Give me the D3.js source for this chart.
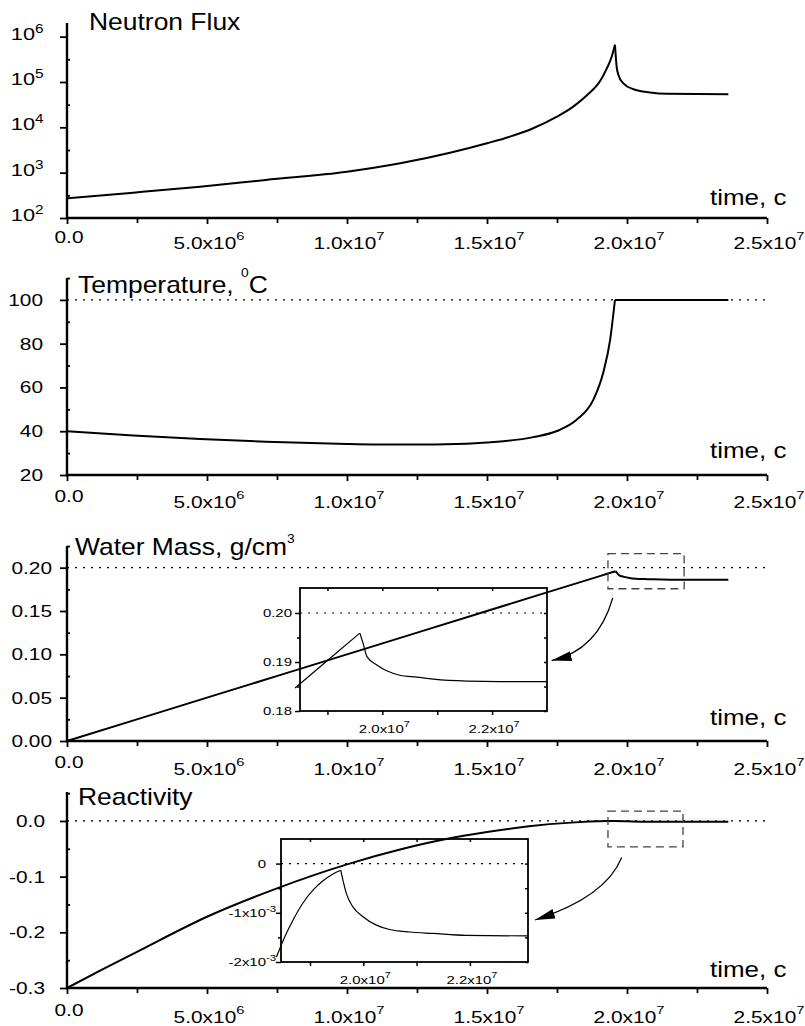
<!DOCTYPE html>
<html>
<head>
<meta charset="utf-8">
<script src="https://cdn.jsdelivr.net/npm/d3@7"></script>
<style>
  body { margin: 0; background: #fff; }
  text { font-family: "Liberation Sans", Arial, sans-serif; fill: #000; }
</style>
</head>
<body>
<script>
const width = 805;
const height = 1026;

// time axis shared by all four panels
const timeTicks = [0, 5e6, 1e7, 1.5e7, 2e7, 2.5e7];
const timeTickLabels = ['0.0', '5.0x10^{6}', '1.0x10^{7}', '1.5x10^{7}', '2.0x10^{7}', '2.5x10^{7}'];

// neutron flux (log)
const fluxTime = [0, 2.37e6, 4.75e6, 7.1e6, 1e7, 1.19e7, 1.368e7, 1.5e7, 1.582e7, 1.665e7, 1.75e7, 1.808e7,
  1.856e7, 1.904e7, 1.928e7, 1.945e7, 1.957e7, 1.963e7, 1.969e7, 1.987e7, 2.023e7, 2.082e7, 2.142e7, 2.362e7];
const fluxValue = [272, 362, 490, 692, 1050, 1610, 2750, 4460, 6240, 9550, 17200, 28600,
  50100, 105000, 200000, 355000, 661000, 219000, 145000, 93300, 69200, 58900, 55000, 53700];
const fluxTicks = [1e2, 1e3, 1e4, 1e5, 1e6];
const fluxTickLabels = ['10^{2}', '10^{3}', '10^{4}', '10^{5}', '10^{6}'];

// temperature
const tempTime = [0, 2.37e6, 4.75e6, 7.1e6, 1e7, 1.19e7, 1.35e7, 1.5e7, 1.665e7, 1.75e7, 1.82e7, 1.88e7,
  1.915e7, 1.94e7, 1.957e7, 2.362e7];
const tempValue = [40, 38, 36.4, 35.2, 34.2, 33.9, 34, 34.8, 37.3, 40.1, 45.2, 54.4,
  66.7, 82, 100, 100];
const tempTicks = [20, 40, 60, 80, 100];
const tempTickLabels = ['20', '40', '60', '80', '100'];

// water mass
const massTime = [0, 5e6, 1e7, 1.5e7, 1.9e7, 1.959e7, 1.965e7, 1.972e7, 1.99e7, 2.008e7, 2.032e7, 2.063e7, 2.093e7, 2.154e7, 2.362e7];
const massValue = [0, 0.05, 0.1, 0.15, 0.19, 0.1959, 0.1938, 0.1911, 0.1894, 0.1882, 0.1873, 0.1869, 0.1865, 0.1861, 0.186];
const massTicks = [0, 0.05, 0.1, 0.15, 0.2];
const massTickLabels = ['0.00', '0.05', '0.10', '0.15', '0.20'];

// water mass, zoomed inset
const massInsetTime = [1.841e7, 1.9e7, 1.959e7, 1.965e7, 1.972e7, 1.99e7, 2.008e7, 2.032e7, 2.063e7, 2.093e7, 2.154e7, 2.214e7, 2.3e7];
const massInsetValue = [0.1847, 0.1903, 0.1959, 0.1938, 0.1911, 0.1894, 0.1882, 0.1873, 0.1869, 0.1865, 0.1861, 0.186, 0.186];
const massInsetTicks = [0.18, 0.19, 0.2];
const massInsetTickLabels = ['0.18', '0.19', '0.20'];

// reactivity
const reactTime = [0, 1.25e6, 2.5e6, 5e6, 7.5e6, 1e7, 1.2e7, 1.35e7, 1.5e7, 1.65e7, 1.8e7, 1.93e7, 1.957e7, 2.05e7, 2.362e7];
const reactValue = [-0.3, -0.267, -0.235, -0.172, -0.121, -0.078, -0.05, -0.033, -0.02, -0.0095, -0.003, -0.0003, -0.0001, -0.0013, -0.0015];
const reactTicks = [-0.3, -0.2, -0.1, 0];
const reactTickLabels = ['-0.3', '-0.2', '-0.1', '0.0'];

// reactivity, zoomed inset
const reactInsetTime = [1.837e7, 1.8525e7, 1.868e7, 1.8868e7, 1.9056e7, 1.9244e7, 1.9431e7, 1.9576e7, 1.9619e7,
  1.9683e7, 1.9806e7, 1.9994e7, 2.0246e7, 2.0495e7, 2.087e7, 2.1307e7, 2.1934e7, 2.308e7];
const reactInsetValue = [-1.9e-3, -1.49e-3, -1.15e-3, -0.8e-3, -0.54e-3, -0.35e-3, -0.21e-3, -0.135e-3, -0.34e-3,
  -0.61e-3, -0.88e-3, -1.08e-3, -1.25e-3, -1.34e-3, -1.39e-3, -1.42e-3, -1.46e-3, -1.47e-3];
const reactInsetTicks = [-2e-3, -1e-3, 0];
const reactInsetTickLabels = ['-2x10^{-3}', '-1x10^{-3}', '0'];

const insetTimeTicks = [1.9e7, 2e7, 2.1e7, 2.2e7];
const insetTimeLabels = ['', '2.0x10^{7}', '', '2.2x10^{7}'];

const svg = d3.select('body').append('svg')
  .attr('width', width)
  .attr('height', height);

const x = d3.scaleLinear().domain([0, 2.5e7]).range([67, 767]);

// text with ^{..} superscripts, stretched horizontally like the original
function richText(g, px, py, str, o) {
  const t = g.append('text')
    .attr('transform', `translate(${px},${py}) scale(${o.sx || 1.28},1)`)
    .attr('text-anchor', o.anchor || 'start')
    .style('font-size', o.size + 'px');
  const parts = str.split(/(\^\{[^}]*\})/).filter(s => s);
  let raised = false;
  parts.forEach(p => {
    if (p.startsWith('^{')) {
      t.append('tspan').attr('dy', -o.rise).style('font-size', o.sup + 'px').text(p.slice(2, -1));
      raised = true;
    } else {
      const ts = t.append('tspan').text(p);
      if (raised) { ts.attr('dy', o.rise); raised = false; }
    }
  });
  return t;
}

// y label whose base part is right-aligned and superscript hangs after it
function yLabel(g, px, py, str, o) {
  const m = str.match(/^(.*?)\^\{([^}]*)\}$/);
  if (!m) return richText(g, px, py, str, Object.assign({}, o, { anchor: 'end' }));
  richText(g, px, py, m[1], Object.assign({}, o, { anchor: 'end' }));
  richText(g, px, py - o.rise, m[2], Object.assign({}, o, { anchor: 'start', size: o.sup }));
}

function styleAxis(g, w) {
  g.select('.domain').remove();
  g.selectAll('.tick line').attr('stroke', '#000').attr('stroke-width', w);
}

// draw a series as two monotone pieces meeting at a sharp corner
function drawSeries(g, xs, ys, times, values, split, w) {
  const line = d3.line()
    .x(i => xs(times[i]))
    .y(i => ys(values[i]))
    .curve(d3.curveMonotoneX);
  const idx = d3.range(times.length);
  const k = split === undefined ? -1 : times.indexOf(split);
  const pieces = k < 0 ? [idx] : [idx.slice(0, k + 1), idx.slice(k)];
  pieces.forEach(piece => {
    g.append('path')
      .attr('d', line(piece))
      .attr('fill', 'none').attr('stroke', '#000').attr('stroke-width', w)
      .attr('stroke-linejoin', 'miter');
  });
}

const panels = [
  { top: 23, bottom: 218, log: true, domain: [1e2, 2e6], ticks: fluxTicks, labels: fluxTickLabels,
    t: fluxTime, v: fluxValue, split: 1.957e7, title: 'Neutron Flux', titleX: 89, titleY: 30, timeY: 205,
    labelX: 35, labelDy: 3, labelSize: 17, xLabDy: [25, 31] },
  { top: 278, bottom: 475, domain: [20, 110], ticks: tempTicks, labels: tempTickLabels, refLine: 100,
    t: tempTime, v: tempValue, split: 1.957e7, title: 'Temperature, ^{0}C', titleX: 78, titleY: 293, timeY: 458,
    labelX: 43, labelDy: 6, labelSize: 16.3, xLabDy: [27, 33] },
  { top: 546, bottom: 741, domain: [0, 0.225], ticks: massTicks, labels: massTickLabels, refLine: 0.2,
    t: massTime, v: massValue, split: 1.959e7, title: 'Water Mass, g/cm^{3}', titleX: 75, titleY: 555, timeY: 725,
    labelX: 52, labelDy: 6, labelSize: 16.3, xLabDy: [27, 34],
    box: [1.932e7, 2.204e7, 0.1757, 0.2162],
    arrow: [[1.949e7, 0.165], [1.8957e7, 0.1046], [1.731e7, 0.0928]],
    inset: { x0: 300, x1: 547, y0: 588, y1: 711, xd: [1.85e7, 2.30e7], yd: [0.18, 0.2051],
      ticks: massInsetTicks, labels: massInsetTickLabels, minor: [0.185, 0.195], ref: 0.2,
      t: massInsetTime, v: massInsetValue, split: 1.959e7, labelX: 292 } },
  { top: 792, bottom: 988, domain: [-0.3, 0.052], ticks: reactTicks, labels: reactTickLabels, refLine: 0,
    t: reactTime, v: reactValue, title: 'Reactivity', titleX: 78, titleY: 805, timeY: 977,
    labelX: 45, labelDy: 6, labelSize: 16.3, xLabDy: [28, 35],
    box: [1.932e7, 2.2e7, -0.0467, 0.0177],
    arrow: [[1.9811e7, -0.0657], [1.9236e7, -0.1372], [1.6714e7, -0.1778]],
    inset: { x0: 281, x1: 528, y0: 839, y1: 962, xd: [1.8456e7, 2.309e7], yd: [-2e-3, 0.5e-3],
      ticks: reactInsetTicks, labels: reactInsetTickLabels, minor: [-1.5e-3, -0.5e-3], ref: 0,
      t: reactInsetTime, v: reactInsetValue, split: 1.9576e7, labelX: 266 } }
];

const defs = svg.append('defs');
defs.append('marker')
  .attr('id', 'head')
  .attr('markerUnits', 'userSpaceOnUse')
  .attr('viewBox', '0 0 20 10')
  .attr('refX', 20).attr('refY', 5)
  .attr('markerWidth', 20).attr('markerHeight', 10)
  .attr('orient', 'auto')
  .append('path')
  .attr('d', 'M0,0 L20,5 L0,10 Z')
  .attr('fill', '#000');

panels.forEach(p => {
  const g = svg.append('g');
  const y = (p.log ? d3.scaleLog() : d3.scaleLinear()).domain(p.domain).range([p.bottom, p.top]);

  // dotted reference line
  if (p.refLine !== undefined) {
    g.append('line')
      .attr('x1', x(0)).attr('x2', x(2.5e7))
      .attr('y1', y(p.refLine)).attr('y2', y(p.refLine))
      .attr('stroke', '#000').attr('stroke-width', 1.2)
      .attr('stroke-dasharray', '2,6');
  }

  // x ticks
  const xMinor = d3.range(2.5e6, 2.5e7, 5e6);
  g.append('g').attr('transform', `translate(0,${p.bottom})`)
    .call(d3.axisBottom(x).tickValues(timeTicks).tickSize(6).tickFormat(''))
    .call(a => styleAxis(a, 1.8));
  g.append('g').attr('transform', `translate(0,${p.bottom})`)
    .call(d3.axisBottom(x).tickValues(xMinor).tickSize(5).tickFormat(''))
    .call(a => styleAxis(a, 1.8));

  // y ticks
  let yMinor;
  if (p.log) yMinor = p.ticks.map(v => v * Math.sqrt(10)).filter(v => v < p.domain[1]);
  else {
    const step = p.ticks[1] - p.ticks[0];
    yMinor = d3.range(p.domain[0] + step / 2, p.domain[1] + 1e-9, step);
  }
  g.append('g').attr('transform', `translate(${x(0)},0)`)
    .call(d3.axisLeft(y).tickValues(p.ticks).tickSize(7).tickFormat(''))
    .call(a => styleAxis(a, 1.8));
  g.append('g').attr('transform', `translate(${x(0)},0)`)
    .call(d3.axisRight(y).tickValues(yMinor).tickSize(3).tickFormat(''))
    .call(a => styleAxis(a, 1.8));

  // axis lines
  g.append('path')
    .attr('d', `M${x(0)},${p.top}V${p.bottom}H${x(2.5e7)}`)
    .attr('fill', 'none').attr('stroke', '#000').attr('stroke-width', 2.4);

  // tick labels
  p.ticks.forEach((v, i) => {
    yLabel(g, p.labelX, y(v) + p.labelDy, p.labels[i], { size: p.labelSize, sup: 12, rise: 7 });
  });
  timeTicks.forEach((v, i) => {
    const lab = timeTickLabels[i];
    const dy = lab.includes('^') ? p.xLabDy[1] : p.xLabDy[0];
    richText(g, x(v) + 2, p.bottom + dy, lab, { size: 16.3, sup: 11.5, rise: 9, anchor: 'middle' });
  });

  // titles
  richText(g, p.titleX, p.titleY, p.title, { size: 23, sup: 12, rise: p.title.includes('cm') ? 12 : 16, sx: 1.15 });
  richText(g, 710, p.timeY, 'time, c', { size: 22, sx: 1.18 });

  // curve
  drawSeries(g, x, y, p.t, p.v, p.split, 2);

  if (!p.inset) return;

  // dashed zoom box and arrow
  g.append('rect')
    .attr('x', x(p.box[0])).attr('y', y(p.box[3]))
    .attr('width', x(p.box[1]) - x(p.box[0]))
    .attr('height', y(p.box[2]) - y(p.box[3]))
    .attr('fill', 'none').attr('stroke', '#444').attr('stroke-width', 1.3)
    .attr('stroke-dasharray', '8,5');
  const [a0, a1, a2] = p.arrow;
  g.append('path')
    .attr('d', `M${x(a0[0])},${y(a0[1])}Q${x(a1[0])},${y(a1[1])} ${x(a2[0])},${y(a2[1])}`)
    .attr('fill', 'none').attr('stroke', '#000').attr('stroke-width', 1.2)
    .attr('marker-end', 'url(#head)');

  // inset
  const n = p.inset;
  const ix = d3.scaleLinear().domain(n.xd).range([n.x0, n.x1]);
  const iy = d3.scaleLinear().domain(n.yd).range([n.y1, n.y0]);
  const ig = svg.append('g');

  ig.append('line')
    .attr('x1', n.x0).attr('x2', n.x1)
    .attr('y1', iy(n.ref)).attr('y2', iy(n.ref))
    .attr('stroke', '#000').attr('stroke-width', 1.1)
    .attr('stroke-dasharray', '2,6');

  ig.append('g').attr('transform', `translate(${n.x0},0)`)
    .call(d3.axisLeft(iy).tickValues(n.ticks).tickSize(5).tickFormat('')).call(a => styleAxis(a, 1.5));
  ig.append('g').attr('transform', `translate(${n.x0},0)`)
    .call(d3.axisLeft(iy).tickValues(n.minor).tickSize(3).tickFormat('')).call(a => styleAxis(a, 1.5));
  ig.append('g').attr('transform', `translate(${n.x1},0)`)
    .call(d3.axisRight(iy).tickValues(n.ticks.concat(n.minor)).tickSize(-3).tickFormat('')).call(a => styleAxis(a, 1.5));
  ig.append('g').attr('transform', `translate(0,${n.y1})`)
    .call(d3.axisBottom(ix).tickValues(insetTimeTicks).tickSize(4).tickFormat('')).call(a => styleAxis(a, 1.5));
  ig.append('g').attr('transform', `translate(0,${n.y0})`)
    .call(d3.axisTop(ix).tickValues(insetTimeTicks).tickSize(-3).tickFormat('')).call(a => styleAxis(a, 1.5));

  ig.append('rect')
    .attr('x', n.x0).attr('y', n.y0)
    .attr('width', n.x1 - n.x0).attr('height', n.y1 - n.y0)
    .attr('fill', 'none').attr('stroke', '#000').attr('stroke-width', 1.8);

  n.ticks.forEach((v, i) => {
    yLabel(ig, n.labelX, iy(v) + 4, n.labels[i], { size: 11.7, sup: 9, rise: 5 });
  });
  insetTimeTicks.forEach((v, i) => {
    if (!insetTimeLabels[i]) return;
    richText(ig, ix(v) + 2, n.y1 + 22, insetTimeLabels[i], { size: 11.7, sup: 8.5, rise: 6, anchor: 'middle' });
  });

  drawSeries(ig, ix, iy, n.t, n.v, n.split, 1.2);
});
</script>
</body>
</html>
